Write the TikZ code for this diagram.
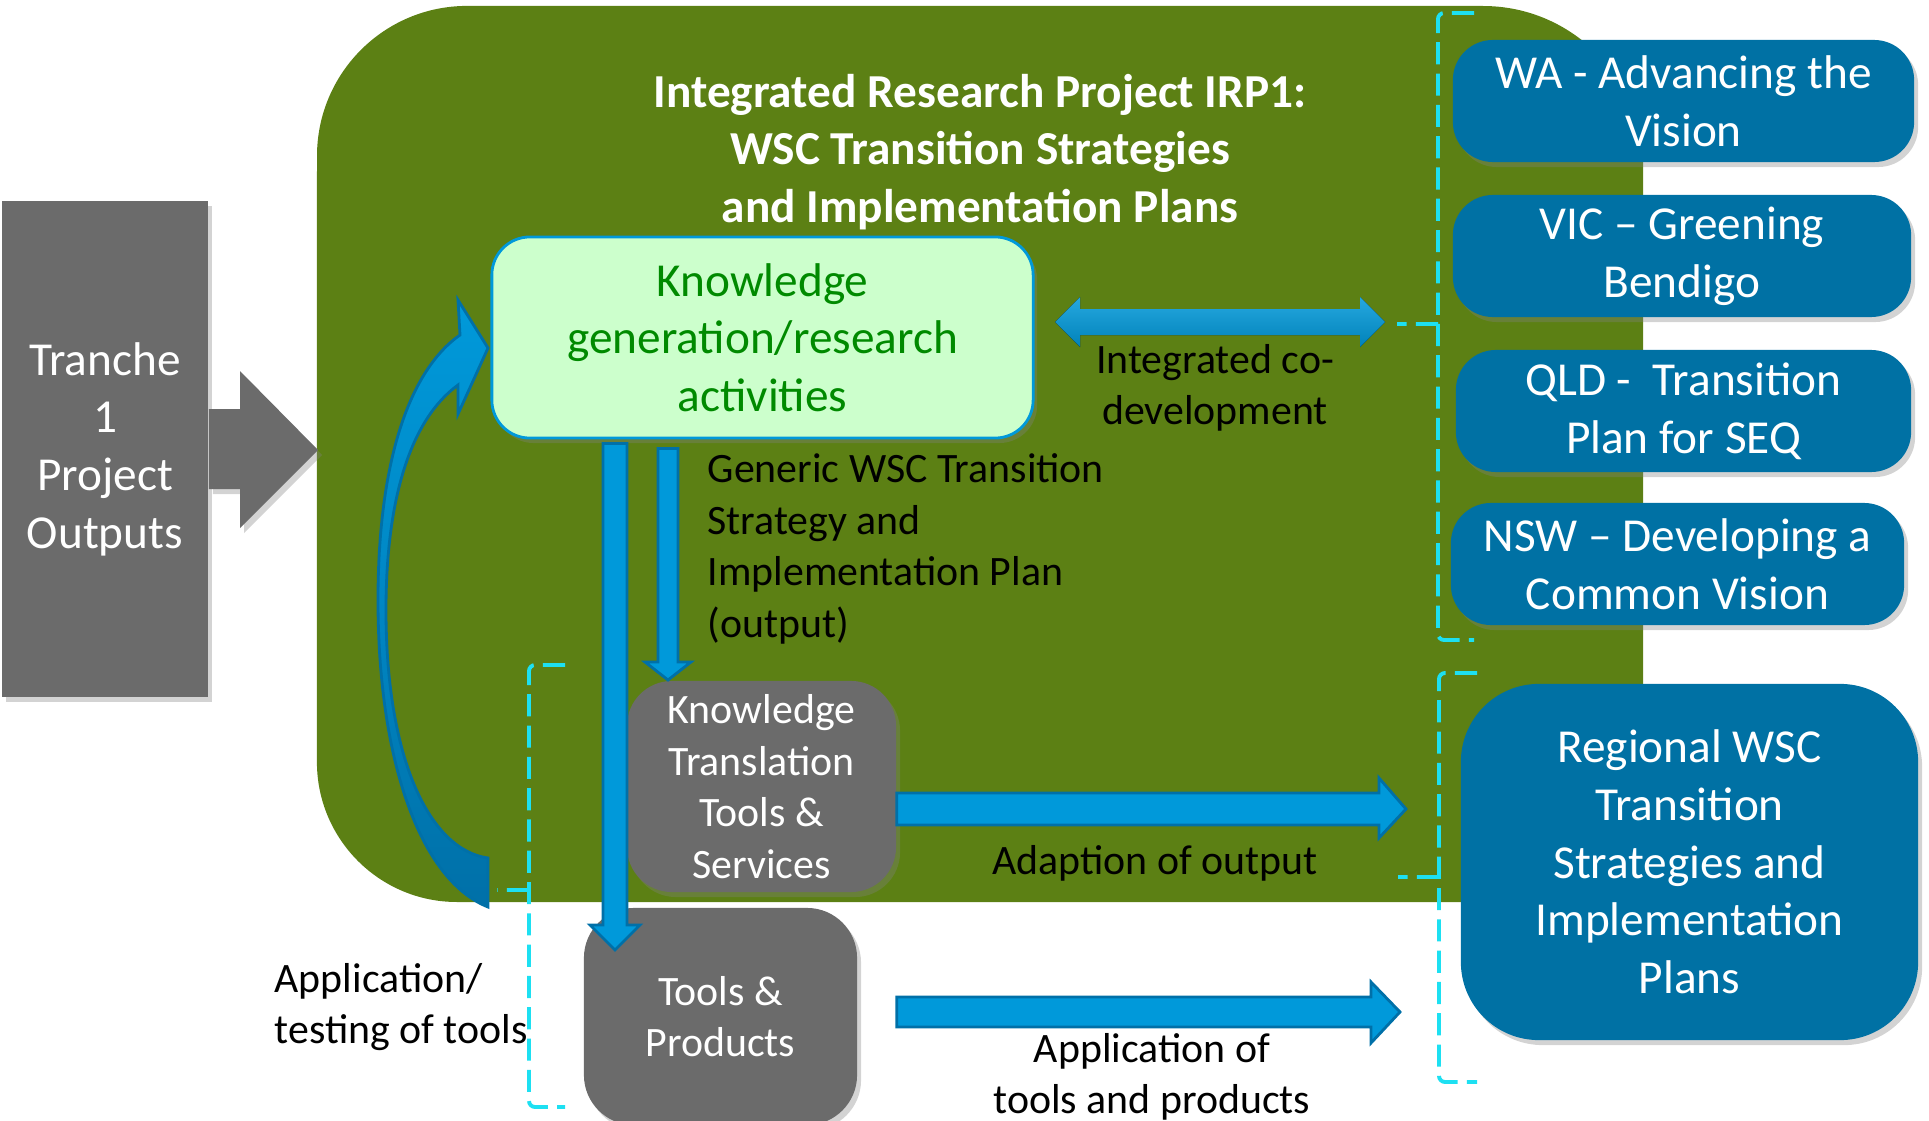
\documentclass[tikz,border=0pt]{standalone}
\usepackage{fontspec}
\setmainfont{Carlito}
\usepackage{tikz}
\usetikzlibrary{calc,shadows}

\definecolor{irpgreen}{RGB}{92,128,20}
\definecolor{boxgray}{RGB}{107,107,107}
\definecolor{knowfill}{RGB}{204,255,204}
\definecolor{knowtext}{RGB}{0,138,0}
\definecolor{regblue}{RGB}{0,113,164}
\definecolor{arrowfill}{RGB}{0,153,218}
\definecolor{arrowline}{RGB}{0,112,168}
\definecolor{dashcyan}{RGB}{29,224,242}

\newcommand{\bigtxt}{\fontsize{13.45}{16.4}\selectfont}
\newcommand{\smalltxt}{\fontsize{11.9}{14.65}\selectfont}

\tikzset{
  boxshadow/.style={drop shadow={opacity=0.35,shadow xshift=0.04cm,shadow yshift=-0.05cm}},
  grayblock/.style={fill=boxgray, text=white, rounded corners=0.45cm, inner sep=0pt, align=center, boxshadow},
  regbox/.style={fill=regblue, text=white, rounded corners=0.4cm, inner sep=0pt, align=center, font=\bigtxt, minimum height=1.22cm, boxshadow},
  lbl/.style={text=black, font=\smalltxt, inner sep=0pt},
  blkarrow/.style={fill=arrowfill, draw=arrowline, line width=0.8pt, line join=miter},
  bracket/.style={draw=dashcyan, line width=1.1pt, dash pattern=on 6.3pt off 2.6pt, rounded corners=0.06cm}
}

\begin{document}
\begin{tikzpicture}[x=0.01cm, y=-0.01cm]
\useasboundingbox (0,0) rectangle (1929,1121);

% IRP1 background
\fill[irpgreen] (1643,902) -- (457,902) arc[start angle=270, end angle=180, radius=1.4cm]
  -- (317,156) arc[start angle=180, end angle=90, radius=1.5cm]
  -- (1483,6) arc[start angle=90, end angle=0, radius=1.6cm] -- cycle;

% tranche 1 input
\node[grayblock, rounded corners=0pt, minimum width=2.06cm, minimum height=4.96cm, font=\bigtxt] (tranche) at (105,449) {Tranche\\1\\Project\\Outputs};
\coordinate (irpin) at (318,450);
\fill[boxgray, boxshadow] ($(tranche.east)+(0,-40)$) -- ($(irpin)+(-78,-41)$) -- ($(irpin)+(-78,-79)$) -- (irpin)
  -- ($(irpin)+(-78,78)$) -- ($(irpin)+(-78,39)$) -- ($(tranche.east)+(0,40)$) -- cycle;

\node[font=\bigtxt\bfseries, text=white, align=center, inner sep=0pt] (title) at (980,152) {Integrated Research Project IRP1:\\WSC Transition Strategies\\and Implementation Plans};

% feedback loop
\coordinate (looptip) at (488,348);
\filldraw[draw=arrowline, line width=0.8pt, top color=arrowfill, bottom color=arrowline, middle color=arrowfill!55!arrowline]
  (488,907) .. controls (420,880) and (378,760) .. (378,600) .. controls (378,460) and (410,370) .. (460,335)
  -- (458,300) -- (looptip) -- (458,414) -- (458,385)
  .. controls (410,420) and (386,500) .. (386,610) .. controls (386,760) and (430,850) .. (488,858) -- cycle;

% boxes
\node[fill=knowfill, draw=arrowfill, line width=0.8pt, rounded corners=0.38cm, minimum width=5.41cm, minimum height=2.01cm, text=knowtext, font=\bigtxt, align=center, inner sep=0pt, boxshadow] (know) at (762.5,337.5) {Knowledge\\generation/research\\activities};
\node[grayblock, minimum width=2.69cm, minimum height=2.11cm, font=\smalltxt] (kt) at (761.5,786.5) {Knowledge\\Translation\\Tools \&\\Services};
\node[grayblock, rounded corners=0.5cm, minimum width=2.73cm, minimum height=2.17cm, font=\smalltxt] (tools) at (720.5,1016.5) {Tools \&\\Products};

\node[regbox, minimum width=4.61cm] (wa) at (1683.5,101) {WA - Advancing the\\Vision};
\node[regbox, minimum width=4.58cm] (vic) at (1682,256) {VIC – Greening\\Bendigo};
\node[regbox, minimum width=4.55cm] (qld) at (1683.5,411) {QLD -\ \ Transition\\Plan for SEQ};
\node[regbox, minimum width=4.53cm] (nsw) at (1677.5,564) {NSW – Developing a\\Common Vision};
\node[regbox, rounded corners=0.78cm, minimum width=4.57cm, minimum height=3.56cm] (regional) at (1689.5,862) {Regional WSC\\Transition\\Strategies and\\Implementation\\Plans};

% block arrows
\coordinate (longtip) at (615,950);
\filldraw[blkarrow] ($(know.south -| longtip)+(-12,4)$) -- ($(longtip)+(-12,-25)$) -- ($(longtip)+(-25,-25)$) -- (longtip)
  -- ($(longtip)+(25,-25)$) -- ($(longtip)+(12,-25)$) -- ($(know.south -| longtip)+(12,4)$) -- cycle;
\coordinate (gentip) at (668,680);
\filldraw[blkarrow] ($(know.south -| gentip)+(-10,9)$) -- ($(gentip)+(-10,-18)$) -- ($(gentip)+(-23,-18)$) -- (gentip)
  -- ($(gentip)+(23,-18)$) -- ($(gentip)+(10,-18)$) -- ($(know.south -| gentip)+(10,9)$) -- cycle;
\coordinate (adapttip) at (1406,809);
\filldraw[blkarrow] ($(kt.east |- adapttip)+(0,-16)$) -- ($(adapttip)+(-27,-16)$) -- ($(adapttip)+(-27,-31)$) -- (adapttip)
  -- ($(adapttip)+(-27,29)$) -- ($(adapttip)+(-27,16)$) -- ($(kt.east |- adapttip)+(0,16)$) -- cycle;
\coordinate (prodtip) at (1400,1012);
\filldraw[blkarrow] ($(tools.east |- prodtip)+(39,-15)$) -- ($(prodtip)+(-29,-15)$) -- ($(prodtip)+(-29,-30)$) -- (prodtip)
  -- ($(prodtip)+(-29,31)$) -- ($(prodtip)+(-29,15)$) -- ($(tools.east |- prodtip)+(39,15)$) -- cycle;
\coordinate (codevL) at (1055,322);
\coordinate (codevR) at (1385,322);
\fill[top color=arrowfill!85!white, bottom color=arrowfill!85!black] (codevL) -- ($(codevL)+(25,-25)$) -- ($(codevL)+(25,-13)$)
  -- ($(codevR)+(-25,-13)$) -- ($(codevR)+(-25,-25)$) -- (codevR) -- ($(codevR)+(-25,25)$) -- ($(codevR)+(-25,13)$)
  -- ($(codevL)+(25,13)$) -- ($(codevL)+(25,25)$) -- cycle;

% labels
\node[lbl, align=center] (codevlbl) at (1215,388) {Integrated co-\\development};
\node[lbl, align=left, anchor=west] (genlbl) at (707,549) {Generic WSC Transition\\Strategy and\\Implementation Plan\\(output)};
\node[lbl] (adaptlbl) at (1155,863) {Adaption of output};
\node[lbl, align=left, anchor=west] (testlbl) at (274,1007) {Application/\\testing of tools};
\node[lbl, align=center] (prodlbl) at (1152,1077) {Application of\\tools and products};

% dashed braces
\coordinate (brk1) at (1397,324);
\coordinate (brk2) at (1398,877);
\coordinate (brk3) at (497,890);
\draw[bracket] (1474,13) -- (1438,13) -- (1438,640) -- (1474,640) (1438,324) -- (brk1);
\draw[bracket] (1477,673) -- (1439,673) -- (1439,1082) -- (1477,1082) (1439,877) -- (brk2);
\draw[bracket] (565,665) -- (529,665) -- (529,1107) -- (565,1107) (529,890) -- (brk3);
\end{tikzpicture}
\end{document}
